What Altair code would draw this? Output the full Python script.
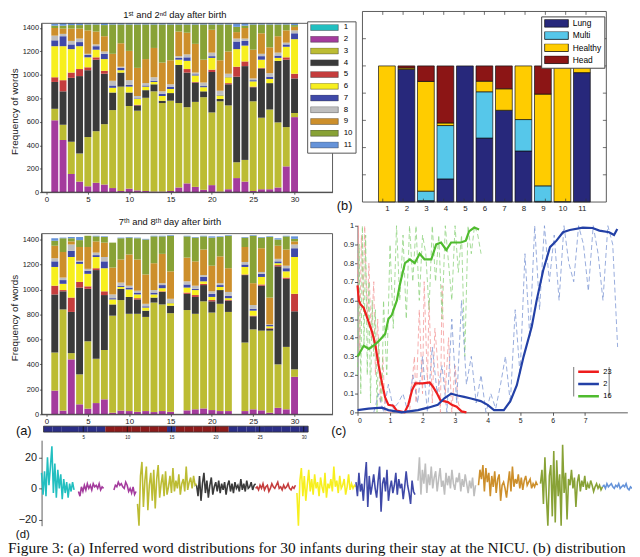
import altair as alt
import pandas as pd

# whole picture in pixels; every panel gets its own scales with fixed pixel ranges
W, H = 632, 549

topics = [str(i) for i in range(1, 12)]
topic_colors = ["#22bfc0", "#a43b9d", "#bcbc33", "#3a3a3a", "#c53d3d", "#f7ef1e",
                "#3f49a8", "#bebebe", "#cd8f2b", "#88a236", "#6593d9"]
infants = list(range(1, 31))

# (a) upper: top of each stacked topic (2..11) for infants 1..30, 1st/2nd day
a1_t2 = [613, 445, 155, 90, 50, 80, 65, 35, 10, 30, 15, 10, 5, 5, 10, 40, 75, 45, 20, 60, 5, 25, 120, 90, 10, 25, 25, 40, 220, 640]
a1_t3 = [711, 575, 430, 330, 470, 520, 580, 700, 900, 735, 695, 805, 860, 760, 780, 760, 725, 770, 810, 680, 775, 740, 255, 275, 775, 635, 705, 595, 555, 675]
a1_t4 = [940, 860, 975, 990, 1040, 1130, 1010, 850, 1020, 850, 740, 870, 920, 780, 845, 1085, 1020, 935, 860, 1025, 795, 920, 985, 1075, 895, 1055, 930, 1120, 1130, 970]
a1_t5 = [980, 955, 1020, 1050, 1065, 1150, 1035, 850, 1020, 850, 745, 870, 920, 780, 845, 1085, 1050, 940, 860, 1045, 795, 930, 1070, 1115, 900, 1060, 930, 1120, 1150, 1010]
a1_t6 = [1245, 1245, 1220, 1245, 1150, 1215, 1135, 890, 1040, 900, 795, 900, 940, 820, 880, 1130, 1120, 995, 895, 1145, 825, 980, 1220, 1250, 945, 1130, 965, 1145, 1240, 1305]
a1_t7 = [1295, 1330, 1260, 1280, 1170, 1245, 1180, 910, 1060, 915, 800, 910, 950, 840, 900, 1145, 1150, 1005, 905, 1160, 830, 985, 1285, 1290, 955, 1160, 985, 1165, 1260, 1355]
a1_t8 = [1335, 1350, 1290, 1310, 1180, 1260, 1200, 950, 1070, 955, 820, 930, 980, 860, 920, 1160, 1175, 1020, 935, 1190, 865, 1010, 1310, 1310, 970, 1180, 1015, 1190, 1275, 1380]
a1_t9 = [1400, 1395, 1395, 1395, 1380, 1370, 1330, 1180, 1270, 1205, 1060, 1135, 1230, 1105, 1125, 1370, 1360, 1265, 1130, 1385, 1125, 1200, 1365, 1400, 1215, 1355, 1235, 1330, 1380, 1410]
a1_t10 = [1420, 1420, 1425, 1425, 1430, 1430, 1425, 1430, 1430, 1430, 1430, 1430, 1430, 1430, 1430, 1430, 1430, 1430, 1430, 1430, 1430, 1430, 1410, 1420, 1430, 1430, 1430, 1430, 1430, 1425]
a1_t11 = [1435, 1440, 1440, 1440, 1440, 1440, 1440, 1440, 1440, 1440, 1440, 1440, 1440, 1440, 1440, 1440, 1440, 1440, 1440, 1440, 1440, 1440, 1440, 1440, 1440, 1440, 1440, 1440, 1440, 1440]

# (a) lower: 7th/8th day (infants 16 and 23 have no bar)
a2_t2 = [190, 30, 440, 80, 45, 90, 120, 13, 30, 26, 20, 26, 18, 26, 20, 0, 32, 40, 47, 34, 26, 26, 0, 26, 40, 32, 13, 52, 40, 300]
a2_t3 = [495, 840, 490, 320, 585, 445, 515, 790, 915, 805, 805, 780, 895, 880, 810, 0, 835, 805, 905, 815, 885, 820, 0, 575, 680, 670, 670, 400, 540, 360]
a2_t4 = [960, 985, 820, 1015, 1005, 1155, 955, 880, 1005, 940, 920, 830, 935, 980, 870, 0, 965, 940, 1035, 905, 995, 910, 0, 1115, 785, 1030, 685, 1185, 1085, 825]
a2_t5 = [1030, 995, 935, 1060, 1025, 1170, 985, 880, 1005, 940, 930, 830, 935, 985, 870, 0, 975, 955, 1045, 915, 995, 915, 0, 1120, 790, 1040, 690, 1195, 1095, 965]
a2_t6 = [1180, 1045, 1260, 1205, 1125, 1260, 1170, 920, 1020, 1000, 960, 855, 960, 1010, 890, 0, 1015, 995, 1065, 940, 1020, 930, 0, 1180, 830, 1100, 705, 1210, 1145, 1260]
a2_t7 = [1225, 1075, 1310, 1220, 1150, 1275, 1225, 930, 1030, 1015, 975, 865, 975, 1035, 895, 0, 1040, 1005, 1100, 965, 1035, 950, 0, 1200, 845, 1125, 715, 1225, 1170, 1330]
a2_t8 = [1250, 1095, 1360, 1230, 1165, 1295, 1260, 960, 1055, 1030, 990, 885, 995, 1050, 925, 0, 1065, 1030, 1115, 985, 1050, 980, 0, 1220, 875, 1140, 720, 1245, 1190, 1360]
a2_t9 = [1350, 1300, 1385, 1340, 1340, 1385, 1375, 1175, 1240, 1280, 1240, 1120, 1210, 1285, 1145, 0, 1255, 1225, 1320, 1190, 1265, 1170, 0, 1340, 1050, 1330, 935, 1350, 1320, 1385]
a2_t10 = [1390, 1410, 1410, 1395, 1430, 1425, 1420, 1375, 1410, 1415, 1410, 1400, 1425, 1425, 1430, 0, 1425, 1415, 1425, 1415, 1420, 1430, 0, 1415, 1430, 1415, 1420, 1400, 1425, 1405]
a2_t11 = [1410, 1415, 1420, 1420, 1430, 1430, 1425, 1375, 1415, 1420, 1415, 1405, 1430, 1430, 1435, 0, 1430, 1420, 1430, 1425, 1425, 1435, 0, 1420, 1435, 1420, 1425, 1410, 1430, 1425]

# strip under (a): group of each infant
strip_group = ["L", "L", "L", "L", "L", "L", "L", "H", "H", "H", "H", "H", "H", "H", "L",
               "H", "H", "H", "H", "H", "H", "L", "L", "L", "L", "L", "L", "L", "L", "L"]

# (b) distribution of the 11 topics over 4 groups
b_cats = ["Lung", "Multi", "Healthy", "Head"]
b_colors = ["#27287b", "#56c7ea", "#ffcc00", "#8c1515"]
b_lung = [0, 0.975, 0.01, 0.17, 1.0, 0.47, 0.674, 0.375, 0.005, 0.003, 0.951]
b_multi = [0, 0, 0.07, 0.392, 0, 0.34, 0, 0.231, 0.114, 0, 0]
b_healthy = [1.0, 0.01, 0.806, 0.019, 0, 0.078, 0.158, 0.394, 0.674, 0.99, 0.039]
b_head = [0, 0.015, 0.114, 0.419, 0, 0.112, 0.168, 0, 0.207, 0.007, 0.01]

# (c) solid curves
c23_x = [0.0, 0.04, 0.09, 0.19, 0.29, 0.45, 0.55, 0.65, 0.75, 0.85, 0.95, 1.1, 1.2, 1.45, 1.56, 1.68, 1.78, 2.0, 2.22, 2.33, 2.45, 2.55, 2.78, 2.9, 3.05, 3.2, 3.35]
c23_y = [0.68, 0.6, 0.58, 0.56, 0.51, 0.43, 0.36, 0.25, 0.16, 0.08, 0.04, 0.035, 0.01, 0.0, 0.04, 0.12, 0.155, 0.155, 0.16, 0.135, 0.1, 0.065, 0.055, 0.04, 0.03, 0.005, 0.0]
c2_x = [0.0, 0.34, 0.75, 0.95, 1.36, 1.86, 2.17, 2.47, 2.67, 2.88, 3.08, 3.28, 3.49, 3.79, 4.0, 4.2, 4.5, 4.7, 4.9, 5.11, 5.36, 5.51, 5.71, 5.92, 6.12, 6.32, 6.53, 6.93, 7.23, 7.44, 7.74, 7.89, 7.99]
c2_y = [0.012, 0.02, 0.025, 0.012, 0.0, 0.012, 0.025, 0.04, 0.075, 0.1, 0.09, 0.083, 0.074, 0.06, 0.04, 0.012, 0.012, 0.06, 0.145, 0.3, 0.46, 0.6, 0.76, 0.885, 0.92, 0.965, 0.977, 0.99, 0.988, 0.974, 0.965, 0.95, 0.982]
c16_x = [0.0, 0.04, 0.19, 0.35, 0.55, 0.7, 0.85, 0.95, 1.05, 1.21, 1.31, 1.46, 1.61, 1.76, 1.91, 2.06, 2.27, 2.42, 2.57, 2.73, 2.88, 3.18, 3.33, 3.43, 3.59, 3.74]
c16_y = [0.3, 0.31, 0.357, 0.34, 0.365, 0.39, 0.42, 0.5, 0.52, 0.6, 0.69, 0.8, 0.82, 0.8, 0.85, 0.82, 0.82, 0.9, 0.91, 0.87, 0.91, 0.91, 0.92, 0.97, 0.99, 0.98]

# (c) dashed raw estimates
cr_x = [0.0, 0.03, 0.06, 0.12, 0.18, 0.22, 0.3, 0.35, 0.42, 0.5, 0.55, 0.62, 0.7, 0.78, 0.85, 1.0, 1.6, 1.75, 1.8, 1.9, 2.0, 2.05, 2.15, 2.2, 2.3, 2.38, 2.45, 2.55, 2.6, 2.7, 2.8, 2.9, 3.0, 3.1, 3.2]
cr_y = [0.7, 1.0, 0.3, 0.95, 0.6, 1.0, 0.5, 0.8, 0.4, 0.7, 0.2, 0.5, 0.05, 0.3, 0.0, 0.0, 0.0, 0.3, 0.05, 0.55, 0.1, 0.7, 0.15, 0.6, 0.05, 0.45, 0.3, 0.0, 0.68, 0.1, 0.4, 0.0, 0.25, 0.05, 0.0]
cg_x = [0.0, 0.05, 0.1, 0.15, 0.2, 0.25, 0.3, 0.35, 0.4, 0.45, 0.5, 0.55, 0.6, 0.65, 0.7, 0.75, 0.8,
        0.9, 1.0, 1.1, 1.2, 1.3, 1.4, 1.5, 1.6, 1.7, 1.8, 1.9, 2.0, 2.1, 2.2, 2.3, 2.4, 2.5, 2.6, 2.7,
        2.8, 2.9, 3.0, 3.1, 3.2, 3.3, 3.4, 3.5, 3.6, 3.7, 3.8]
cg_y = [0.2, 0.9, 0.1, 1.0, 0.35, 0.95, 0.2, 0.7, 0.05, 0.6, 0.3, 0.55, 0.0, 0.4, 0.15, 0.05, 0.6,
        0.2, 0.9, 0.45, 1.0, 0.6, 0.95, 0.5, 1.0, 0.7, 1.0, 0.6, 0.95, 0.85, 0.55, 1.0, 0.7, 0.95, 0.5, 1.0,
        0.8, 0.6, 1.0, 0.75, 0.95, 0.3, 1.0, 0.85, 1.0, 0.95, 0.85]
cb_x = [0.5, 0.65, 0.8, 0.95, 1.1, 1.25, 1.4, 1.55, 1.7, 1.85, 2.0, 2.15, 2.3, 2.45, 2.6, 2.75, 2.9,
        3.05, 3.2, 3.35, 3.5, 3.65, 3.8, 3.95, 4.1, 4.25, 4.4, 4.55, 4.7, 4.85, 5.0, 5.15, 5.3, 5.45,
        5.6, 5.75, 5.9, 6.05, 6.2, 6.35, 6.5, 6.65, 6.8, 6.95, 7.1, 7.25, 7.4, 7.55, 7.7, 7.85, 8.0]
cb_y = [0.0, 0.1, 0.0, 0.15, 0.02, 0.05, 0.1, 0.0, 0.2, 0.05, 0.3, 0.0, 0.35, 0.1, 0.25, 0.0, 0.5,
        0.05, 0.6, 0.15, 0.3, 0.05, 0.2, 0.0, 0.1, 0.02, 0.15, 0.3, 0.05, 0.55, 0.2, 0.85, 0.4, 1.0,
        0.55, 1.0, 0.7, 0.95, 0.6, 1.0, 0.8, 0.7, 1.0, 0.9, 0.65, 1.0, 0.85, 0.6, 1.0, 0.9, 0.35]

# (d) signal pieces: topic, first sample index, values
d_cyan = [10, -4, 11, -5, 20, 2, 14, 27, -3, 16, -6, 12, 0, 9, -7, 6, -3, 4, -6, 3, -2, 4, -1]
d_purple_a = [-2, -5, 1, -2, 2, -1, 3, 0, 2, -1, 3, 1, 2, 0, 3, -1, 1, 0]
d_purple_b = [-1, 2, 1, 4, 2, 3, 1, 0, 4, 2, -2, 0, -3, 1, -4, -2]
d_olive = [-10, -24, 8, 17, -12, 5, 14, -14, 2, 10, -8, 12, -13, 6, 15, -6, 3, 9, -5, 11, -4, 1, 8, -3, 13, -2, 5, 0, 9, -4, 3, 6, -2, 14, -1, 4, 7, 0, 8, 2, 3]
d_dark = [2, -5, 8, -8, 3, 10, -3, 5, -6, 2, 7, -4, 1, 4, -2, 5, -3, 3, -1, 4, -4, 2, 5, -2, 3, -3, 4, 0, 2, -2, 6, -1, 3, -2, 5, 0, 1, 4, -1, 2, 3]
d_red = [0, 1, -1, 2, 0, 3, -1, 1, 2, -2, 0, 3, 1, 0, 2, 4, 0, 1, -1, 2, 0, 1, 3, 0, -1, 1, 0, 2]
d_yellow = [-3, -24, 5, 13, -5, 8, -8, 2, 12, -2, 6, -4, 9, 0, 4, -5, 7, 1, -3, 10, -6, 3, 0, 6, -2, 14, 1, 5, -3, 8, 0, 2, 6, -4, 1, 9, -1, 3, 0, 2, 1]
d_blue = [4, -5, 10, -2, 3, -8, 6, 17, -12, 8, -4, 2, 9, 0, -6, 5, 14, -15, 3, 7, -2, 12, -8, 0, 5, -3, 2, 10, -4, 6, 0, 3, -7, 1, 11, 2, -3, -10, 5, -2, -4]
d_gray = [5, 20, -4, 12, 3, 16, -3, 9, 2, 14, 0, 7, 11, -2, 6, 13, 1, 5, -4, 10, 2, 8, 0, 12, 3, -1, 7, 4, 10, -2, 6, 1, 9, 3, -3, 5, 0, 7, -5, 2]
d_orange = [2, 12, 6, 15, -2, 13, 4, 10, -5, 8, 1, 11, -3, 6, 9, -8, 2, 4, 0, -6, 3, 11, -2, 14, 1, 6, 3, 9, 0, 7, -1, 5, 8, 2, 4, 6, 0, 3, 1, 4, 2]
d_green = [3, 12, -10, 20, -5, -24, 8, 15, -18, 24, -22, 18, -5, 9, -24, 28, -3, 10, -20, 6, 2, 12, 0, 7, -12, 4, 9, -2, 5, 1, 8, -1, 3, 0, 5, 2, -2, 1, 3, 0, 2, -1, 1]
d_lightblue = [1, 2, 0, 3, 1, 2, 3, 1, 0, 2, 1, 3, 0, 1, 2, 1, 3, 0, -1, 1, 0]
d_pieces = [("1", 0, d_cyan), ("2", 25, d_purple_a), ("2", 49, d_purple_b), ("3", 65, d_olive),
            ("4", 105, d_dark), ("5", 145, d_red), ("6", 173, d_yellow), ("7", 213, d_blue),
            ("8", 255, d_gray), ("9", 296, d_orange), ("10", 338, d_green), ("11", 380, d_lightblue)]

caption = ("Figure 3: (a) Inferred word distributions for 30 infants during their stay at the NICU. "
           "(b) distribution")

SANS = "Liberation Sans"


def lin(domain, rng):
    return alt.Scale(domain=domain, range=rng, nice=False, zero=False)


def bottom_axis(cy, **kw):
    return alt.Axis(orient="bottom", offset=cy - H, title=None, grid=False, **kw)


def left_axis(cx, **kw):
    kw.setdefault("title", None)
    return alt.Axis(orient="left", offset=-cx, grid=False, **kw)


def stack_rows(tops):
    rows = []
    for i, inf in enumerate(infants):
        prev = 0
        for k, col in enumerate(tops):
            v = col[i] - prev
            if v > 0:
                rows.append({"infant": inf, "topic": topics[k + 1], "order": k, "value": v})
            prev = max(prev, col[i])
    return pd.DataFrame(rows)


def frame(xs, ys, x_sc, y_sc):
    box = pd.DataFrame({"x0": [xs[0]], "x1": [xs[1]], "y0": [ys[0]], "y1": [ys[1]]})
    return alt.Chart(box).mark_rect(filled=False, stroke="#333", strokeWidth=0.8).encode(
        x=alt.X("x0:Q", scale=x_sc, axis=None), x2="x1:Q",
        y=alt.Y("y0:Q", scale=y_sc, axis=None), y2="y1:Q")


def label(text, cx, cy, size, font=SANS, align="center"):
    return alt.Chart(pd.DataFrame({"t": [text]})).mark_text(
        fontSize=size, font=font, align=align, baseline="middle", color="#111"
    ).encode(text="t:N", x=alt.value(cx), y=alt.value(cy))


def word_panel(tops, y_max, y_rng, title_y, legend):
    x_sc = lin([0, 34], [34, 328.7])
    y_sc = lin([0, y_max], y_rng)
    bars = alt.Chart(stack_rows(tops)).mark_bar(size=7).encode(
        x=alt.X("infant:Q", scale=x_sc,
                axis=bottom_axis(y_rng[0], values=[0, 5, 10, 15, 20, 25, 30], labelFontSize=8,
                                 tickSize=2, labelPadding=1)),
        y=alt.Y("value:Q", stack="zero", scale=y_sc,
                axis=left_axis(34, values=list(range(0, 1401, 200)), format="d", labelFontSize=7.5,
                               tickSize=2, labelPadding=1, title="Frequency of words", titleFontSize=10,
                               titleFontWeight="normal", titleX=-22, titleY=title_y)),
        color=alt.Color("topic:N", scale=alt.Scale(domain=topics, range=topic_colors), legend=legend),
        order=alt.Order("order:Q"),
    )
    return [bars, frame([0, 34], [0, y_max], x_sc, y_sc)]


layers = []

# (a) upper with the topic legend
a1_legend = alt.Legend(orient="none", legendX=303, legendY=10, title=None, direction="vertical",
                       symbolType="M-1,-0.22H1V0.22H-1Z", symbolSize=784, clipHeight=6.3,
                       rowPadding=2.9, labelFontSize=8, labelFont=SANS, labelOffset=5, padding=3,
                       strokeColor="#555", fillColor="white", symbolStrokeColor="#444",
                       symbolStrokeWidth=0.5, symbolOpacity=1)
layers += word_panel([a1_t2, a1_t3, a1_t4, a1_t5, a1_t6, a1_t7, a1_t8, a1_t9, a1_t10, a1_t11],
                     1440, [183, 12], 101, a1_legend)
layers += word_panel([a2_t2, a2_t3, a2_t4, a2_t5, a2_t6, a2_t7, a2_t8, a2_t9, a2_t10, a2_t11],
                     1447, [408, 225], 310, None)

# strip under (a)
sx = lin([0.5, 30.5], [36, 304])
sy = lin([0, 1], [426, 420])
strip_df = pd.DataFrame({"infant": infants, "group": strip_group, "s0": 0, "s1": 1})
layers.append(alt.Chart(strip_df).transform_calculate(
    lo="datum.infant - 0.5", hi="datum.infant + 0.5"
).mark_rect().encode(
    x=alt.X("lo:Q", scale=sx, axis=bottom_axis(426, values=[5, 10, 15, 20, 25, 30], labelFontSize=4.5,
                                                 tickSize=0, labelPadding=2, domain=False)),
    x2="hi:Q",
    y=alt.Y("s0:Q", scale=sy, axis=None), y2="s1:Q",
    color=alt.Color("group:N", scale=alt.Scale(domain=["L", "H"], range=["#2b2e86", "#8c1b1b"]), legend=None),
))
strip_ticks = pd.DataFrame({"v": [5, 10, 15, 20, 25, 30], "s0": 0, "s1": 1})
layers.append(alt.Chart(strip_ticks).mark_rule(color="#111", strokeWidth=0.8).encode(
    x=alt.X("v:Q", scale=sx, axis=None), y=alt.Y("s0:Q", scale=sy, axis=None), y2="s1:Q"))
layers.append(frame([0.5, 30.5], [0, 1], sx, sy))

# (b)
bx = lin([0, 12], [359, 606])
by = lin([0, 1.4], [193, 0])
b_rows = []
for k, (cat, vals) in enumerate(zip(b_cats, [b_lung, b_multi, b_healthy, b_head])):
    for j, v in enumerate(vals):
        if v > 0:
            b_rows.append({"col": j + 1, "cat": cat, "order": k, "value": v})
layers.append(alt.Chart(pd.DataFrame(b_rows)).mark_bar(size=17, stroke="#111", strokeWidth=0.7).encode(
    x=alt.X("col:Q", scale=bx, axis=bottom_axis(193, values=list(range(1, 12)), labelFontSize=8,
                                                 tickSize=0, labelPadding=3, domain=False)),
    y=alt.Y("value:Q", stack="zero", scale=by, axis=None),
    color=alt.Color("cat:N", scale=alt.Scale(domain=b_cats, range=b_colors),
                    legend=alt.Legend(orient="none", legendX=540, legendY=5, title=None,
                                      symbolType="M-1,-0.33H1V0.33H-1Z", symbolSize=576, clipHeight=8,
                                      rowPadding=3.3, labelFontSize=8.5, labelFont=SANS, labelOffset=4,
                                      padding=3, strokeColor="#444", fillColor="white",
                                      symbolStrokeColor="#111", symbolStrokeWidth=0.8, symbolOpacity=1)),
    order=alt.Order("order:Q"),
))
b_tick_y = [0.2, 0.4, 0.6, 0.8, 1.0, 1.2]
b_tick_x = list(range(1, 12))
b_ticks = pd.DataFrame(
    [{"x": 0, "x2": 0.17, "y": v, "y2": v} for v in b_tick_y]
    + [{"x": 11.83, "x2": 12, "y": v, "y2": v} for v in b_tick_y]
    + [{"x": c, "x2": c, "y": 1.4, "y2": 1.375} for c in b_tick_x]
    + [{"x": c, "x2": c, "y": 0, "y2": 0.025} for c in b_tick_x])
layers.append(alt.Chart(b_ticks).mark_rule(color="#333", strokeWidth=0.7).encode(
    x=alt.X("x:Q", scale=bx, axis=None), x2="x2:Q", y=alt.Y("y:Q", scale=by, axis=None), y2="y2:Q"))
layers.append(frame([0, 12], [0, 1.4], bx, by))

# (c)
cx_sc = lin([0, 8.3], [354, 627.3])
cy_sc = lin([0, 1], [406, 217])
dash_df = pd.concat([
    pd.DataFrame({"x": cr_x, "y": cr_y, "s": "r"}),
    pd.DataFrame({"x": cg_x, "y": cg_y, "s": "g"}),
    pd.DataFrame({"x": cb_x, "y": cb_y, "s": "b"}),
])
layers.append(alt.Chart(dash_df).mark_line(strokeDash=[5, 3], strokeWidth=1, opacity=0.8).encode(
    x=alt.X("x:Q", scale=cx_sc, axis=bottom_axis(406, values=list(range(0, 8)), labelFontSize=7,
                                                  tickSize=3, labelPadding=1)),
    y=alt.Y("y:Q", scale=cy_sc, axis=left_axis(354, values=[i / 10 for i in range(11)], format=".1~f",
                                                labelFontSize=7.5, tickSize=3, labelPadding=1)),
    color=alt.Color("s:N", scale=alt.Scale(domain=["r", "g", "b"], range=["#f39a9a", "#8fd27e", "#7d97d4"]),
                    legend=None),
    order="x:Q",
))
solid_df = pd.concat([
    pd.DataFrame({"x": c23_x, "y": c23_y, "s": "23"}),
    pd.DataFrame({"x": c2_x, "y": c2_y, "s": "2"}),
    pd.DataFrame({"x": c16_x, "y": c16_y, "s": "16"}),
])
layers.append(alt.Chart(solid_df).mark_line(strokeWidth=2.2).encode(
    x=alt.X("x:Q", scale=cx_sc, axis=None),
    y=alt.Y("y:Q", scale=cy_sc, axis=None),
    color=alt.Color("s:N", scale=alt.Scale(domain=["23", "2", "16"], range=["#ee1d1d", "#2340a6", "#4fbb2e"]),
                    legend=alt.Legend(orient="none", legendX=576, legendY=362, title=None,
                                      symbolType="stroke", symbolSize=440, symbolStrokeWidth=2.5,
                                      clipHeight=6, rowPadding=4.3, labelFontSize=7.5, labelFont=SANS,
                                      labelOffset=3, padding=0)),
    order="x:Q",
))
c_box = pd.DataFrame({"x": [6.65, 7.74], "y0": [0.085, 0.085], "y1": [0.243, 0.243]})
layers.append(alt.Chart(c_box).mark_rule(color="#555", strokeWidth=0.8).encode(
    x=alt.X("x:Q", scale=cx_sc, axis=None), y=alt.Y("y0:Q", scale=cy_sc, axis=None), y2="y1:Q"))

# (d)
d_rows = []
for n, (topic, start, vals) in enumerate(d_pieces):
    for i, v in enumerate(vals):
        d_rows.append({"t": start + i, "v": v, "topic": topic, "seg": n})
layers.append(alt.Chart(pd.DataFrame(d_rows)).mark_line(strokeWidth=1.6).encode(
    x=alt.X("t:Q", scale=lin([0, 400], [34, 632]), axis=None),
    y=alt.Y("v:Q", scale=lin([-24, 31], [520.8, 434.2]),
            axis=left_axis(34, values=[-20, 0, 20], labelFontSize=11, tickSize=3, labelPadding=2)),
    color=alt.Color("topic:N", scale=alt.Scale(domain=topics, range=topic_colors), legend=None),
    detail="seg:N",
    order="t:Q",
))

# texts
layers += [
    label("1ˢᵗ and 2ⁿᵈ day after birth", 169, 4, 9.5),
    label("7ᵗʰ and 8ᵗʰ day after birth", 164, 213, 9.5),
    label("(a)", 16, 425, 13),
    label("(b)", 341, 197, 13),
    label("(c)", 335, 425, 13),
    label("(d)", 15, 530, 11.5),
]
layers.append(alt.Chart(pd.DataFrame({"t": [caption]})).mark_text(
    fontSize=15.6, font="Liberation Serif", align="left", baseline="alphabetic", color="#111"
).encode(text="t:N", x=alt.value(0), y=alt.value(548)))

chart = alt.layer(*layers).resolve_scale(
    x="independent", y="independent", color="independent"
).properties(
    width=W, height=H, autosize=alt.AutoSizeParams(type="none"), padding=0
).configure_view(stroke=None).configure_axis(
    labelFont=SANS, titleFont=SANS, labelColor="#222", titleColor="#222",
    domainColor="#333", tickColor="#333", domainWidth=0.8, tickWidth=0.8
)

chart.save("out.html", embed_options={"renderer": "svg", "actions": False})
